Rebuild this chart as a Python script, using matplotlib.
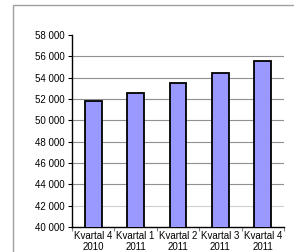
import matplotlib
matplotlib.use("Agg")
import matplotlib.pyplot as plt
from matplotlib.patches import Rectangle
from matplotlib.ticker import FuncFormatter

categories = ["Kvartal 4\n2010", "Kvartal 1\n2011", "Kvartal 2\n2011", "Kvartal 3\n2011", "Kvartal 4\n2011"]
values = [51800, 52560, 53470, 54480, 55580]
yticks = list(range(40000, 58001, 2000))

plt.rcParams['font.family'] = ['Liberation Sans', 'DejaVu Sans']

W, H = 294, 252
fig = plt.figure(figsize=(W / 100, H / 100), dpi=100)
fig.patch.set_facecolor('white')

# outer frame (left and top visible)
fig.add_artist(Rectangle((13 / W, -0.1), 1.2, (H - 5) / H + 0.1, transform=fig.transFigure,
                         fill=False, edgecolor='#a0a0a0', linewidth=1.0))

ax = fig.add_axes([72 / W, (H - 227) / H, (284 - 72) / W, (227 - 35) / H])
x = list(range(len(categories)))
ax.bar(x, values, width=0.4, color='#9999ff', edgecolor='black', linewidth=1.3, zorder=3)
ax.set_xlim(-0.5, len(categories) - 0.5)
ax.set_ylim(40000, 58000)
ax.set_yticks(yticks)
ax.yaxis.set_major_formatter(FuncFormatter(lambda v, p: f"{int(v):,}".replace(",", " ")))
for yv in yticks[1:-1]:
    ax.axhline(yv, color='#d0d0d0' if yv == 42000 else '#909090', linewidth=0.8, zorder=1)

ax.set_xticks([i + 0.5 for i in range(-1, len(categories))])
ax.set_xticklabels([])
ax.set_xticks(x, minor=True)
ax.set_xticklabels(categories, minor=True, fontsize=7, linespacing=1.15)
ax.tick_params(axis='x', which='minor', length=0, pad=3)
ax.tick_params(axis='x', which='major', length=3, width=0.8, color='#808080')
ax.tick_params(axis='y', length=3, width=0.8, labelsize=7, pad=2)

for s in ['top', 'right']:
    ax.spines[s].set_visible(False)
ax.spines['left'].set_linewidth(1.0)
ax.spines['bottom'].set_linewidth(1.0)

fig.savefig("out.png", dpi=100)
